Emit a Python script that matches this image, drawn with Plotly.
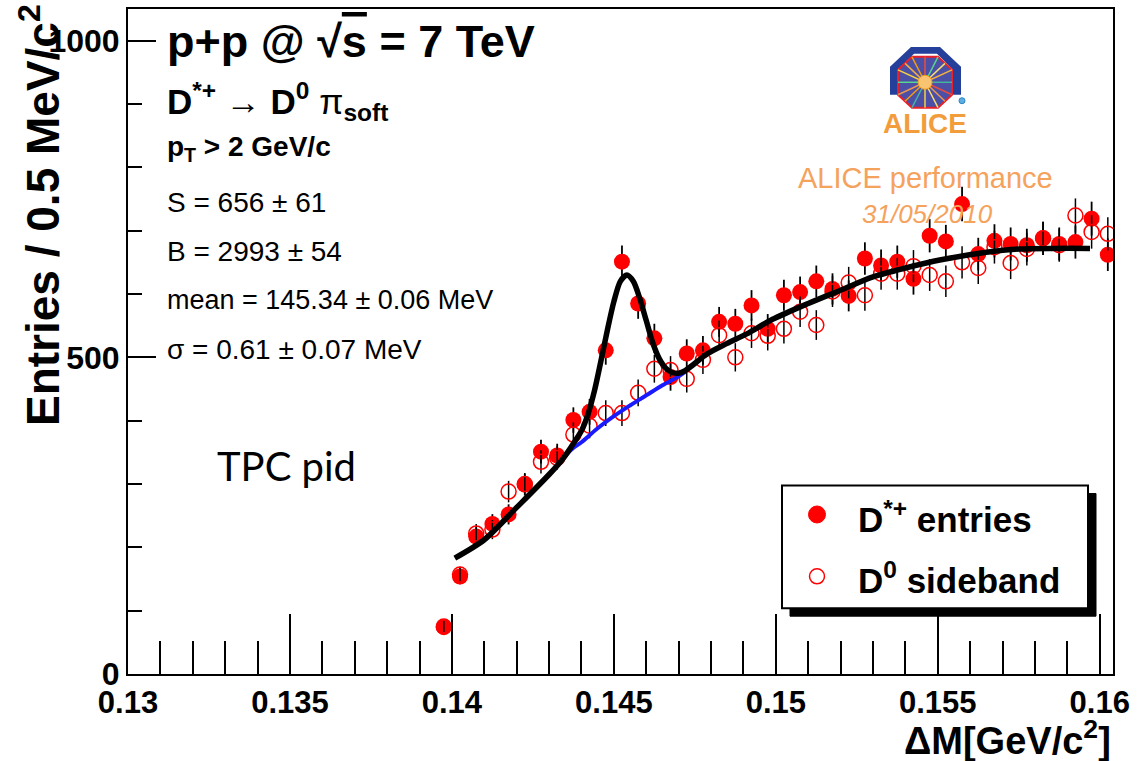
import numpy as np
import plotly.graph_objects as go

# ---------------- data ----------------
bin_centers = [0.13975 + 0.0005 * k for k in range(42)]
dstar_entries = [74, 154, 217, 237, 252, 299, 351, 345, 401, 414,
                 511, 651, 585, 530, 469, 506, 511, 556, 553, 582,
                 545, 598, 603, 620, 608, 597, 656, 645, 651, 624,
                 692, 683, 742, 663, 684, 679, 677, 688, 679, 682,
                 719, 662]
d0_sideband = [75, 157, 222, 228, 288, 300, 335, 341, 378, 392,
               412, 412, 444, 482, 480, 466, 496, 535, 500, 538,
               534, 545, 572, 551, 604, 618, 598, 632, 632, 644,
               630, 620, 650, 641, 674, 649, 671, 688, 677, 724,
               698, 695]

fit_x = [0.14009, 0.1410, 0.1420, 0.1430, 0.1434, 0.1437, 0.1440, 0.1442,
         0.1444, 0.1446, 0.1448, 0.1450, 0.1452, 0.1454, 0.1456, 0.1458,
         0.1460, 0.1462, 0.1464, 0.1466, 0.1468, 0.1470, 0.1472, 0.1479,
         0.1485, 0.1491, 0.1499, 0.1510, 0.1520, 0.1530, 0.1540, 0.1551,
         0.1565, 0.1575, 0.1586, 0.1597]
fit_y = [183, 212, 263, 315, 338, 360, 384, 410, 447, 494, 543, 588, 620,
         630, 620, 593, 558, 523, 498, 483, 476, 475, 479, 506, 522, 537,
         560, 585, 606, 627, 641, 654, 666, 671, 672, 672]

bkg_x = [0.1434, 0.1437, 0.1440, 0.1445, 0.1450, 0.1455, 0.1460, 0.1465,
         0.1470, 0.1472]
bkg_y = [338, 355, 366, 388, 407, 424, 440, 456, 470, 477]

x_tickvals = [0.13, 0.135, 0.14, 0.145, 0.15, 0.155, 0.16]
x_ticktext = ["0.13", "0.135", "0.14", "0.145", "0.15", "0.155", "0.16"]
y_tickvals = [0, 500, 1000]
y_ticktext = ["0", "500", "1000"]

# ---------------- layout geometry (pixels) ----------------
W, H = 1137, 761
L, R, T, B = 128, 1113, 7, 674


def pxx(x):
    return (x - L) / (R - L)


def pxy(y):
    return (B - y) / (B - T)


FONT = "Liberation Sans, Arial, Helvetica, sans-serif"
ORANGE = "#F5A25D"

fig = go.Figure()

fig.add_trace(go.Scatter(
    x=bin_centers, y=dstar_entries, mode="markers", name="D*+ entries",
    marker=dict(symbol="circle", size=16, color="#FF0000"),
    error_y=dict(type="data", array=list(np.sqrt(dstar_entries)),
                 color="black", thickness=1.8, width=0),
    showlegend=False))
fig.add_trace(go.Scatter(
    x=bin_centers, y=d0_sideband, mode="markers", name="D0 sideband",
    marker=dict(symbol="circle-open", size=15, color="#FF0000",
                line=dict(width=1.5, color="#FF0000")),
    error_y=dict(type="data", array=list(np.sqrt(d0_sideband)),
                 color="black", thickness=1.5, width=0),
    showlegend=False))
fig.add_trace(go.Scatter(
    x=bkg_x, y=bkg_y, mode="lines", line=dict(color="#1a1aff", width=4,
                                             shape="spline"),
    showlegend=False))
fig.add_trace(go.Scatter(
    x=fit_x, y=fit_y, mode="lines", line=dict(color="black", width=5.5,
                                             shape="spline", smoothing=0.8),
    showlegend=False))

fig.update_xaxes(
    range=[0.13, 0.16041], showgrid=False, zeroline=False,
    showline=True, linecolor="black", linewidth=2, mirror=True,
    ticks="inside", ticklen=60, tickwidth=1.5, tickcolor="black",
    tickvals=x_tickvals, ticktext=x_ticktext,
    tickfont=dict(family=FONT, size=31, color="black", weight="bold"),
    minor=dict(ticks="inside", ticklen=33, tickwidth=1.5, tickcolor="black",
               dtick=0.001, tick0=0.13, showgrid=False),
)
fig.update_yaxes(
    range=[0, 1050], showgrid=False, zeroline=False,
    showline=True, linecolor="black", linewidth=2, mirror=True,
    ticks="inside", ticklen=28, tickwidth=1.5, tickcolor="black",
    tickvals=y_tickvals, ticktext=y_ticktext,
    tickfont=dict(family=FONT, size=32, color="black", weight="bold"),
    minor=dict(ticks="inside", ticklen=14, tickwidth=1.5, tickcolor="black",
               dtick=100, tick0=0, showgrid=False),
)

ann = []


def text(t, x, y, size, xanchor="left", yanchor="middle", color="black",
         family=FONT, angle=0):
    ann.append(dict(text=t, x=pxx(x), y=pxy(y), xref="paper", yref="paper",
                    xanchor=xanchor, yanchor=yanchor, showarrow=False,
                    textangle=angle,
                    font=dict(family=family, size=size, color=color)))


# info block
text("<b>p+p @ √<span style='text-decoration:overline'>s</span> = 7 TeV</b>",
     165, 40, 45)
text("<b>D<sup>*+</sup></b> → <b>D<sup>0</sup></b> π<sub><b>soft</b></sub>",
     165, 100, 35)
text("<b>p<sub>T</sub> > 2 GeV/c</b>", 165, 147, 28)
text("S = 656 ± 61", 165, 201, 28)
text("B = 2993 ± 54", 165, 250, 28)
text("mean = 145.34 ± 0.06 MeV", 165, 299, 27)
text("σ = 0.61 ± 0.07 MeV", 165, 349, 28)

text("TPC pid", 286, 465, 40, xanchor="center", family="Lato, sans-serif")

# ALICE label
text("<b>ALICE</b>", 925, 122, 28, xanchor="center", color="#F39C3B")
text("ALICE performance", 925, 177, 29, xanchor="center", color=ORANGE)
text("<i>31/05/2010</i>", 927, 213, 26, xanchor="center", color=ORANGE)

# axis titles
text("<b>Entries / 0.5 MeV/c<sup>2</sup></b>", 40, 0, 46, xanchor="center",
     yanchor="top", angle=-90)
text("<b>ΔM[GeV/c<sup>2</sup>]</b>", 1113, 738, 38, xanchor="right")

# legend text
text("<b>D<sup>*+</sup> entries</b>", 856, 517, 35)
text("<b>D<sup>0</sup> sideband</b>", 856, 578, 35)

shapes = []


def rect(x0, y0, x1, y1, fill, line="black", lw=2):
    shapes.append(dict(type="rect", xref="paper", yref="paper",
                       x0=pxx(x0), x1=pxx(x1), y0=pxy(y1), y1=pxy(y0),
                       fillcolor=fill, line=dict(color=line, width=lw),
                       layer="above"))


def poly(points, fill, line=None, lw=0):
    d = "M " + " L ".join(f"{pxx(a):.5f},{pxy(b):.5f}" for a, b in points) + " Z"
    shapes.append(dict(type="path", xref="paper", yref="paper", path=d,
                       fillcolor=fill,
                       line=dict(color=line or fill, width=lw),
                       layer="above"))


def seg(a, b, c, d, color, lw):
    shapes.append(dict(type="line", xref="paper", yref="paper",
                       x0=pxx(a), y0=pxy(b), x1=pxx(c), y1=pxy(d),
                       line=dict(color=color, width=lw), layer="above"))


def dot(cx, cy, r, fill, line, lw):
    shapes.append(dict(type="circle", xref="paper", yref="paper",
                       xsizemode="pixel", ysizemode="pixel",
                       xanchor=pxx(cx), yanchor=pxy(cy),
                       x0=-r, x1=r, y0=-r, y1=r,
                       fillcolor=fill, line=dict(color=line, width=lw),
                       layer="above"))


# legend box with shadow
rect(790, 493, 1096, 616, "black", "black", 1)
rect(782, 485, 1088, 608, "white", "black", 2)
dot(817, 514, 8.5, "#FF0000", "#FF0000", 1)
dot(817, 576, 7.5, "white", "#FF0000", 1.5)

# ALICE logo
outer = [(890, 93), (890, 65), (911, 45), (940, 45), (961, 65), (961, 93)]
inner = [(953, 93), (953, 68), (937, 52), (914, 52), (898, 68), (898, 93)]
poly(outer + inner, "#24409A")
octo = [(898, 68), (912, 55), (938, 55), (952, 68), (952, 93), (938, 106),
        (912, 106), (898, 93)]
poly(octo, "#4B4FA6", "#E8202A", 2)
cx, cy = 925, 80.5
ray_cols = ["#F4D03F", "#F39C12", "#58D68D", "#F5B041", "#E74C3C",
            "#F7DC6F", "#45B39D", "#EB984E"]
for i, (a, b) in enumerate(octo):
    seg(cx, cy, a, b, ray_cols[i % len(ray_cols)], 1.5)
    seg(cx, cy, (a + octo[(i + 1) % 8][0]) / 2, (b + octo[(i + 1) % 8][1]) / 2,
        ray_cols[(i + 3) % len(ray_cols)], 1.5)
dot(cx, cy, 7, "#F8C471", "#F39C12", 1)
dot(962, 99, 3, "#5DADE2", "#2E86C1", 1)

fig.update_layout(
    width=W, height=H,
    margin=dict(l=L, r=W - R, t=T, b=H - B),
    paper_bgcolor="white", plot_bgcolor="white",
    showlegend=False,
    annotations=ann, shapes=shapes,
    font=dict(family=FONT, color="black"),
)

fig.write_html("out.html")
